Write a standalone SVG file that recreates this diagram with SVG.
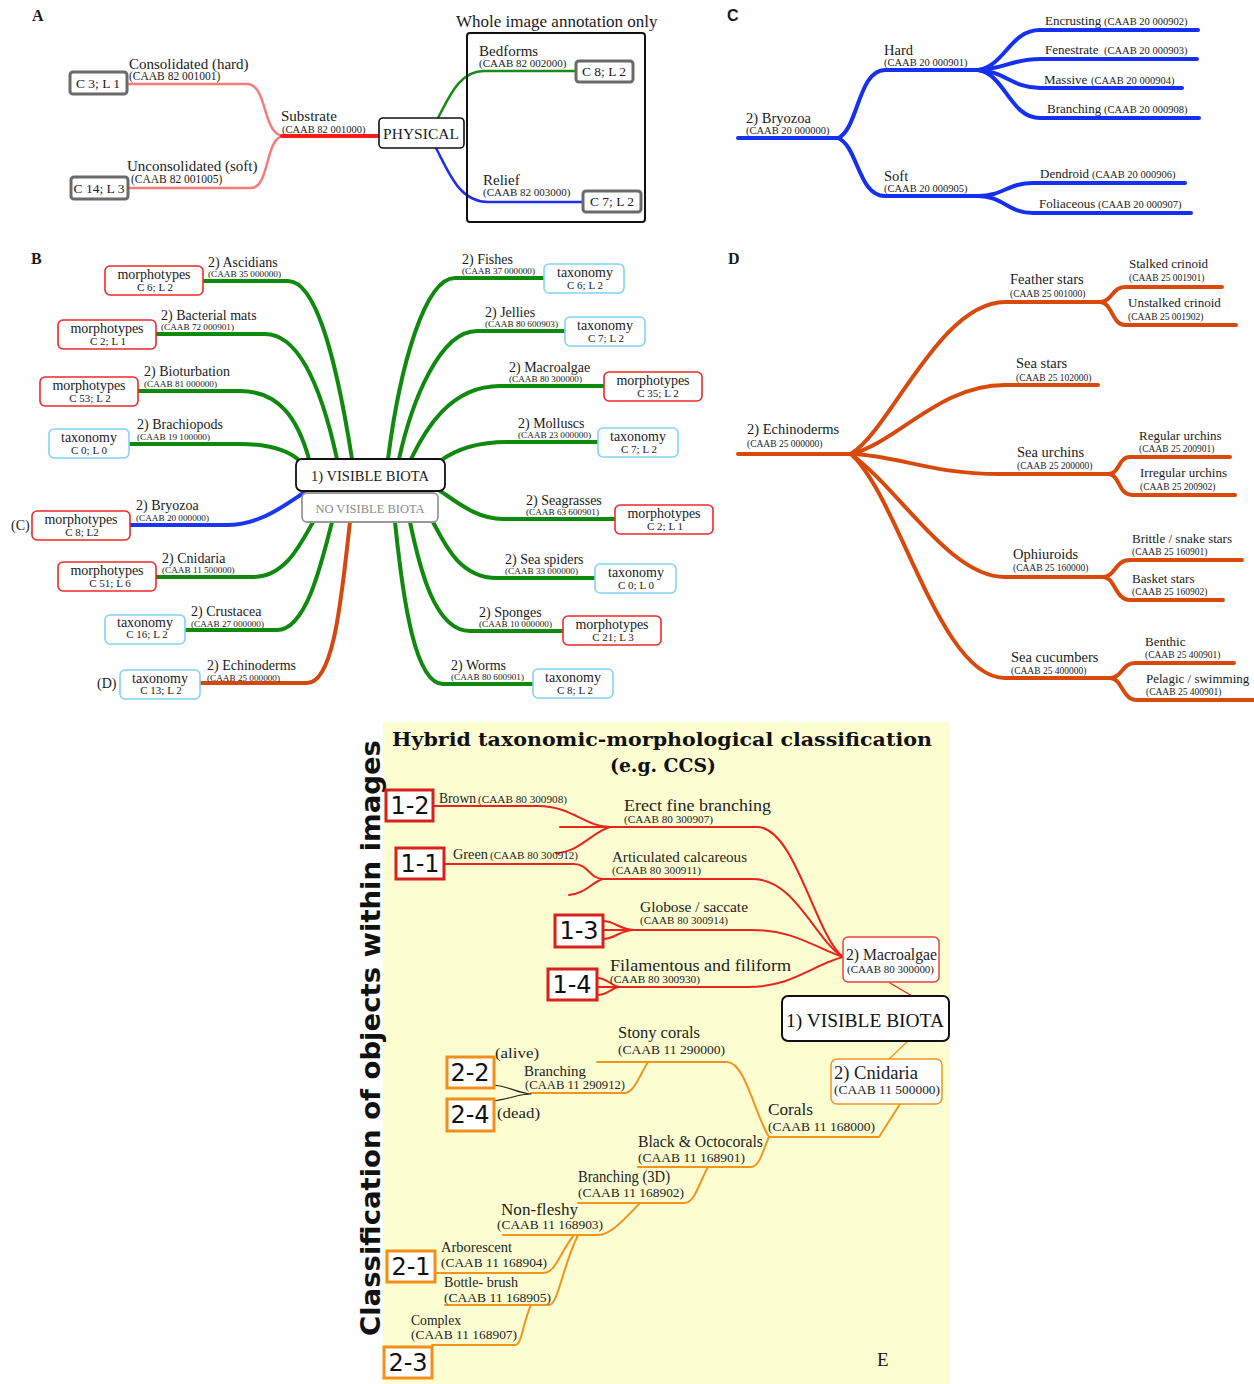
<svg xmlns="http://www.w3.org/2000/svg" width="1254" height="1384" viewBox="0 0 1254 1384">
<style>
text{font-family:"Liberation Serif","Times New Roman",serif;fill:#1a1a1a}
.mid{text-anchor:middle}
.pl{font-size:15px}
.pc{font-size:11.5px}
.gt{font-size:13.5px;text-anchor:middle}
.bl{font-size:14px}
.bc{font-size:9.2px}
.b1{font-size:14px;text-anchor:middle}
.b2{font-size:11px;text-anchor:middle}
.cl{font-size:14.5px}
.cc{font-size:10.5px}
.cs{font-size:13px}
.ds{font-size:13px}
.dc{font-size:9.5px}
.panel{font-weight:bold;font-size:16px}
.gbox{fill:#fff;stroke:#6a6a6a;stroke-width:3}
.rbox{fill:#fff;stroke:#ee2a2a;stroke-width:1.6}
.cbox{fill:#fff;stroke:#84d2f4;stroke-width:1.6}
.ln{fill:none;stroke-linecap:round;stroke-linejoin:round}
.gB{stroke:#0f8a0f;stroke-width:4}
.bB{stroke:#1b36f0;stroke-width:4}
.oB{stroke:#d4480e;stroke-width:4}
.bC{stroke:#1530f0;stroke-width:4}
.oD{stroke:#d84a0c;stroke-width:4}
.er{stroke:#e8241c;stroke-width:2}
.eo{stroke:#f0961e;stroke-width:2}
.num{font-family:"DejaVu Sans","Liberation Sans",sans-serif;font-size:24px;text-anchor:middle;fill:#111}
.ebr{fill:#fff;stroke:#d8211b;stroke-width:3}
.ebo{fill:#fff;stroke:#f0901a;stroke-width:3}
.el{font-size:15px;fill:#222}
.ec{font-size:10.5px;fill:#222}
.eoc{font-size:13px;fill:#222}
</style>

<!-- Panel E background -->
<rect x="383" y="722" width="567" height="662" fill="#fdfdd2"/>

<!-- panel letters -->
<text x="32" y="21" class="panel">A</text>
<text x="31" y="264" class="panel">B</text>
<text x="727" y="21" class="panel" style="font-family:'Liberation Sans',Arial,sans-serif">C</text>
<text x="728" y="264" class="panel">D</text>
<text x="877" y="1366" style="font-size:19px">E</text>

<g id="connectors">
  <!-- Panel A -->
  <path class="ln" stroke="#f77b7b" stroke-width="2.5" d="M127,84 L247,84 C268,84 262,136 284,136"/>
  <path class="ln" stroke="#f77b7b" stroke-width="2.5" d="M128,188 L251,188 C270,188 265,136 284,136"/>
  <path class="ln" stroke="#ff1a1a" stroke-width="4" d="M282,136 L379,136"/>
  <path class="ln" stroke="#1a8a1a" stroke-width="2.5" d="M438,118 C450,95 460,71 484,71 L577,71"/>
  <path class="ln" stroke="#1f2ff0" stroke-width="2.5" d="M436,148 C450,175 460,202 488,202 L584,202"/>

  <!-- Panel B left -->
  <path class="ln gB" d="M203,281 L288,281 C318,281 338,370 352,459"/>
  <path class="ln gB" d="M156,334 L265,334 C300,334 322,390 337,459"/>
  <path class="ln gB" d="M138,391 L240,391 C280,391 298,420 309,459"/>
  <path class="ln gB" d="M129,444 L240,444 C270,444 288,450 300,461"/>
  <path class="ln bB" d="M130,525 L227,525 C260,525 285,505 305,492"/>
  <path class="ln gB" d="M156,577 L253,577 C285,577 300,545 313,522"/>
  <path class="ln gB" d="M185,630 L277,630 C305,630 320,570 332,522"/>
  <path class="ln oB" d="M200,683 L307,683 C335,683 342,590 350,522"/>
  <!-- Panel B right -->
  <path class="ln gB" d="M544,278 L455,278 C425,278 400,365 388,459"/>
  <path class="ln gB" d="M565,331 L477,331 C440,331 412,400 399,459"/>
  <path class="ln gB" d="M604,386 L500,386 C450,386 425,430 411,459"/>
  <path class="ln gB" d="M598,442 L507,442 C475,442 455,450 440,461"/>
  <path class="ln gB" d="M615,519 L503,519 C475,519 455,500 440,491"/>
  <path class="ln gB" d="M595,578 L497,578 C460,578 445,545 433,522"/>
  <path class="ln gB" d="M563,631 L470,631 C435,631 420,570 410,522"/>
  <path class="ln gB" d="M533,684 L443,684 C415,684 403,600 395,522"/>

  <!-- Panel C -->
  <path class="ln bC" d="M738,138 L838,138"/>
  <path class="ln bC" d="M838,138 C858,130 858,70 885,70 L980,70"/>
  <path class="ln bC" d="M838,138 C858,146 858,196 885,196 L980,196"/>
  <path class="ln bC" d="M978,70 C1005,66 1010,30 1040,30 L1198,30"/>
  <path class="ln bC" d="M978,70 C1005,69 1012,59 1040,59 L1197,59"/>
  <path class="ln bC" d="M978,70 C1005,71 1012,88 1040,88 L1182,88"/>
  <path class="ln bC" d="M978,70 C1005,74 1010,118 1040,118 L1199,118"/>
  <path class="ln bC" d="M978,196 C1003,196 1008,183 1033,183 L1185,183"/>
  <path class="ln bC" d="M978,196 C1003,196 1008,213 1033,213 L1191,213"/>

  <!-- Panel D -->
  <path class="ln oD" d="M738,454 L852,454"/>
  <path class="ln oD" d="M852,453 C890,430 940,302 1005,302 L1100,302"/>
  <path class="ln oD" d="M852,454 C900,440 940,385 1005,385 L1098,385"/>
  <path class="ln oD" d="M852,454 C900,456 930,474 1000,474 L1110,474"/>
  <path class="ln oD" d="M852,455 C900,490 950,577 1005,577 L1103,577"/>
  <path class="ln oD" d="M852,455 C900,500 940,678 1005,678 L1110,678"/>
  <path class="ln oD" d="M1100,302 C1112,302 1112,287 1125,287 L1222,287"/>
  <path class="ln oD" d="M1100,302 C1112,302 1112,325 1125,325 L1236,325"/>
  <path class="ln oD" d="M1108,474 C1120,474 1118,457 1130,457 L1230,457"/>
  <path class="ln oD" d="M1108,474 C1120,474 1118,495 1132,495 L1235,495"/>
  <path class="ln oD" d="M1103,577 C1115,577 1115,560 1130,560 L1242,560"/>
  <path class="ln oD" d="M1103,577 C1115,577 1115,600 1130,600 L1223,600"/>
  <path class="ln oD" d="M1110,678 C1122,678 1122,663 1135,663 L1234,663"/>
  <path class="ln oD" d="M1110,678 C1122,678 1122,700 1137,700 L1254,700"/>

  <!-- Panel E red -->
  <path class="ln er" d="M433,806 L538,806 C572,806 585,827 610,827"/>
  <path class="ln er" d="M560,827 L610,827"/>
  <path class="ln er" d="M556,853 C580,852 592,832 610,827"/>
  <path class="ln er" d="M610,827 L757,827 C795,827 815,935 843,957"/>
  <path class="ln er" d="M444,864 L574,864 C588,864 590,879 603,879"/>
  <path class="ln er" d="M569,895 C585,894 592,882 603,879"/>
  <path class="ln er" d="M603,879 L753,879 C795,879 815,940 843,957"/>
  <path class="ln er" d="M603,921 C615,921 620,930 634,930 M603,930 L634,930 M603,939 C615,939 620,930 634,930"/>
  <path class="ln er" d="M634,930 L752,930 C795,930 815,948 843,957"/>
  <path class="ln er" d="M597,978 C608,978 612,987 620,987 M597,987 L620,987 M597,995 C608,995 612,987 620,987"/>
  <path class="ln er" d="M620,987 L748,987 C792,987 812,965 843,957"/>
  <path class="ln" stroke="#e8241c" stroke-width="1.3" d="M890,983 L912,996"/>

  <!-- Panel E orange -->
  <path class="ln" stroke="#f0961e" stroke-width="1.3" d="M908,1041 L889,1059"/>
  <path class="ln eo" d="M900,1104 L879,1137 L769,1137"/>
  <path class="ln eo" d="M769,1137 C755,1115 745,1062 727,1062 L597,1062"/>
  <path class="ln eo" d="M648,1062 C638,1078 634,1093 624,1093 L531,1093"/>
  <path class="ln" stroke="#222" stroke-width="1.2" d="M494,1085 C510,1087 518,1093 531,1094 M494,1101 C510,1099 518,1094 531,1094"/>
  <path class="ln eo" d="M769,1137 C762,1152 760,1167 750,1167 L638,1167"/>
  <path class="ln eo" d="M708,1167 C698,1185 695,1203 684,1203 L578,1203"/>
  <path class="ln eo" d="M640,1203 C622,1222 610,1235 598,1235 L503,1235"/>
  <path class="ln eo" d="M574,1235 C560,1252 556,1273 543,1273 L435,1273"/>
  <path class="ln eo" d="M578,1235 C562,1268 558,1305 549,1305 L445,1305"/>
  <path class="ln eo" d="M531,1305 C522,1325 522,1345 515,1345 L432,1345"/>
</g>

<!-- ================= Panel A nodes ================= -->
<g id="a-whole-image">
  <rect x="467" y="33" width="178" height="189" rx="3" fill="none" stroke="#111" stroke-width="2"/>
  <text x="456" y="27" style="font-size:17px">Whole image annotation only</text>
</g>
<g id="a-physical">
  <rect x="379" y="118" width="85" height="30" rx="4" fill="#fff" stroke="#111" stroke-width="1.6"/>
  <text x="421" y="139" class="mid" style="font-size:15.5px">PHYSICAL</text>
</g>
<g id="a-substrate">
  <text x="281" y="121" class="pl">Substrate</text>
  <text x="282" y="133" class="pc" style="font-size:10.5px">(CAAB 82 001000)</text>
</g>
<g id="a-consolidated">
  <text x="129" y="69" class="pl">Consolidated (hard)</text>
  <text x="129" y="80" class="pc">(CAAB 82 001001)</text>
  <rect x="70" y="72" width="57" height="22" rx="3" class="gbox"/>
  <text x="98" y="88" class="gt">C 3; L 1</text>
</g>
<g id="a-unconsolidated">
  <text x="127" y="171" class="pl">Unconsolidated (soft)</text>
  <text x="131" y="183" class="pc">(CAAB 82 001005)</text>
  <rect x="71" y="177" width="57" height="22" rx="3" class="gbox"/>
  <text x="99" y="193" class="gt">C 14; L 3</text>
</g>
<g id="a-bedforms">
  <text x="479" y="56" class="pl">Bedforms</text>
  <text x="479" y="67" class="pc" style="font-size:11px">(CAAB 82 002000)</text>
  <rect x="576" y="61" width="57" height="21" rx="3" class="gbox"/>
  <text x="604" y="76" class="gt">C 8; L 2</text>
</g>
<g id="a-relief">
  <text x="483" y="185" class="pl">Relief</text>
  <text x="483" y="196" class="pc" style="font-size:11px">(CAAB 82 003000)</text>
  <rect x="583" y="191" width="58" height="21" rx="3" class="gbox"/>
  <text x="612" y="206" class="gt">C 7; L 2</text>
</g>

<!-- ================= Panel C nodes ================= -->
<g id="c-bryozoa">
  <text x="746" y="123" class="cl">2) Bryozoa</text>
  <text x="746" y="134" class="cc">(CAAB 20 000000)</text>
</g>
<g id="c-hard">
  <text x="884" y="55" class="cl">Hard</text>
  <text x="884" y="66" class="cc">(CAAB 20 000901)</text>
</g>
<g id="c-soft">
  <text x="884" y="181" class="cl">Soft</text>
  <text x="884" y="192" class="cc">(CAAB 20 000905)</text>
</g>
<g id="c-encrusting"><text x="1045" y="25" class="cs">Encrusting</text><text x="1104" y="25" class="cc">(CAAB 20 000902)</text></g>
<g id="c-fenestrate"><text x="1045" y="54" class="cs">Fenestrate</text><text x="1104" y="54" class="cc">(CAAB 20 000903)</text></g>
<g id="c-massive"><text x="1044" y="84" class="cs">Massive</text><text x="1091" y="84" class="cc">(CAAB 20 000904)</text></g>
<g id="c-branching"><text x="1047" y="113" class="cs">Branching</text><text x="1104" y="113" class="cc">(CAAB 20 000908)</text></g>
<g id="c-dendroid"><text x="1040" y="178" class="cs">Dendroid</text><text x="1092" y="178" class="cc">(CAAB 20 000906)</text></g>
<g id="c-foliaceous"><text x="1039" y="208" class="cs">Foliaceous</text><text x="1098" y="208" class="cc">(CAAB 20 000907)</text></g>

<!-- ================= Panel B nodes ================= -->
<g id="b-visible-biota">
  <rect x="296" y="459" width="149" height="32" rx="6" fill="#fff" stroke="#111" stroke-width="1.8"/>
  <text x="370" y="481" class="mid" style="font-size:14.5px">1) VISIBLE BIOTA</text>
</g>
<g id="b-no-visible-biota">
  <rect x="302" y="493" width="136" height="29" rx="5" fill="#fff" stroke="#999" stroke-width="1.8"/>
  <text x="370" y="513" class="mid" style="font-size:12.5px;fill:#8a8a8a">NO VISIBLE BIOTA</text>
</g>

<g id="b-ascidians">
  <text x="208" y="267" class="bl">2) Ascidians</text><text x="208" y="277" class="bc">(CAAB 35 000000)</text>
  <rect x="105" y="266" width="98" height="29" rx="5" class="rbox"/>
  <text x="154" y="279" class="b1">morphotypes</text><text x="155" y="291" class="b2">C 6; L 2</text>
</g>
<g id="b-bacterial-mats">
  <text x="161" y="320" class="bl">2) Bacterial mats</text><text x="161" y="330" class="bc">(CAAB 72 000901)</text>
  <rect x="58" y="320" width="98" height="29" rx="5" class="rbox"/>
  <text x="107" y="333" class="b1">morphotypes</text><text x="108" y="345" class="b2">C 2; L 1</text>
</g>
<g id="b-bioturbation">
  <text x="144" y="376" class="bl">2) Bioturbation</text><text x="144" y="387" class="bc">(CAAB 81 000000)</text>
  <rect x="40" y="377" width="98" height="29" rx="5" class="rbox"/>
  <text x="89" y="390" class="b1">morphotypes</text><text x="90" y="402" class="b2">C 53; L 2</text>
</g>
<g id="b-brachiopods">
  <text x="137" y="429" class="bl">2) Brachiopods</text><text x="137" y="440" class="bc">(CAAB 19 100000)</text>
  <rect x="49" y="429" width="80" height="29" rx="5" class="cbox"/>
  <text x="89" y="442" class="b1">taxonomy</text><text x="89" y="454" class="b2">C 0; L 0</text>
</g>
<g id="b-bryozoa">
  <text x="11" y="530" class="bl">(C)</text>
  <text x="136" y="510" class="bl">2) Bryozoa</text><text x="136" y="521" class="bc">(CAAB 20 000000)</text>
  <rect x="32" y="511" width="98" height="29" rx="5" class="rbox"/>
  <text x="81" y="524" class="b1">morphotypes</text><text x="82" y="536" class="b2">C 8; L2</text>
</g>
<g id="b-cnidaria">
  <text x="162" y="563" class="bl">2) Cnidaria</text><text x="162" y="573" class="bc">(CAAB 11 500000)</text>
  <rect x="58" y="562" width="98" height="29" rx="5" class="rbox"/>
  <text x="107" y="575" class="b1">morphotypes</text><text x="110" y="587" class="b2">C 51; L  6</text>
</g>
<g id="b-crustacea">
  <text x="191" y="616" class="bl">2) Crustacea</text><text x="191" y="627" class="bc">(CAAB 27 000000)</text>
  <rect x="105" y="615" width="80" height="29" rx="5" class="cbox"/>
  <text x="145" y="627" class="b1">taxonomy</text><text x="147" y="638" class="b2">C 16; L 2</text>
</g>
<g id="b-echinoderms">
  <text x="97" y="688" class="bl">(D)</text>
  <text x="207" y="670" class="bl">2) Echinoderms</text><text x="207" y="681" class="bc">(CAAB 25 000000)</text>
  <rect x="120" y="670" width="80" height="29" rx="5" class="cbox"/>
  <text x="160" y="683" class="b1">taxonomy</text><text x="161" y="694" class="b2">C 13; L 2</text>
</g>

<g id="b-fishes">
  <text x="462" y="264" class="bl">2) Fishes</text><text x="462" y="274" class="bc">(CAAB 37 000000)</text>
  <rect x="544" y="264" width="80" height="29" rx="5" class="cbox"/>
  <text x="585" y="277" class="b1">taxonomy</text><text x="585" y="289" class="b2">C 6; L 2</text>
</g>
<g id="b-jellies">
  <text x="485" y="317" class="bl">2) Jellies</text><text x="485" y="327" class="bc">(CAAB 80 600903)</text>
  <rect x="565" y="317" width="80" height="29" rx="5" class="cbox"/>
  <text x="605" y="330" class="b1">taxonomy</text><text x="606" y="342" class="b2">C 7; L 2</text>
</g>
<g id="b-macroalgae">
  <text x="509" y="372" class="bl">2) Macroalgae</text><text x="509" y="382" class="bc">(CAAB 80 300000)</text>
  <rect x="604" y="372" width="98" height="29" rx="5" class="rbox"/>
  <text x="653" y="385" class="b1">morphotypes</text><text x="658" y="397" class="b2">C 35; L 2</text>
</g>
<g id="b-molluscs">
  <text x="518" y="428" class="bl">2) Molluscs</text><text x="518" y="438" class="bc">(CAAB 23 000000)</text>
  <rect x="598" y="428" width="80" height="29" rx="5" class="cbox"/>
  <text x="638" y="441" class="b1">taxonomy</text><text x="639" y="453" class="b2">C 7; L 2</text>
</g>
<g id="b-seagrasses">
  <text x="526" y="505" class="bl">2) Seagrasses</text><text x="526" y="515" class="bc">(CAAB 63 600901)</text>
  <rect x="615" y="505" width="98" height="29" rx="5" class="rbox"/>
  <text x="664" y="518" class="b1">morphotypes</text><text x="665" y="530" class="b2">C 2; L 1</text>
</g>
<g id="b-sea-spiders">
  <text x="505" y="564" class="bl">2) Sea spiders</text><text x="505" y="574" class="bc">(CAAB 33 000000)</text>
  <rect x="595" y="564" width="81" height="29" rx="5" class="cbox"/>
  <text x="636" y="577" class="b1">taxonomy</text><text x="636" y="589" class="b2">C 0; L 0</text>
</g>
<g id="b-sponges">
  <text x="479" y="617" class="bl">2) Sponges</text><text x="479" y="627" class="bc">(CAAB 10 000000)</text>
  <rect x="563" y="616" width="98" height="29" rx="5" class="rbox"/>
  <text x="612" y="629" class="b1">morphotypes</text><text x="613" y="641" class="b2">C 21; L 3</text>
</g>
<g id="b-worms">
  <text x="451" y="670" class="bl">2) Worms</text><text x="451" y="680" class="bc">(CAAB 80 600901)</text>
  <rect x="533" y="669" width="80" height="29" rx="5" class="cbox"/>
  <text x="573" y="682" class="b1">taxonomy</text><text x="575" y="694" class="b2">C 8; L 2</text>
</g>

<!-- ================= Panel D nodes ================= -->
<g id="d-echinoderms"><text x="747" y="434" class="cl">2) Echinoderms</text><text x="747" y="447" class="dc">(CAAB 25 000000)</text></g>
<g id="d-feather-stars"><text x="1010" y="284" class="cl">Feather stars</text><text x="1010" y="297" class="dc">(CAAB 25 001000)</text></g>
<g id="d-sea-stars"><text x="1016" y="368" class="cl">Sea stars</text><text x="1016" y="381" class="dc">(CAAB 25 102000)</text></g>
<g id="d-sea-urchins"><text x="1017" y="457" class="cl">Sea urchins</text><text x="1017" y="469" class="dc">(CAAB 25 200000)</text></g>
<g id="d-ophiuroids"><text x="1013" y="559" class="cl">Ophiuroids</text><text x="1013" y="571" class="dc">(CAAB 25 160000)</text></g>
<g id="d-sea-cucumbers"><text x="1011" y="662" class="cl">Sea cucumbers</text><text x="1011" y="674" class="dc">(CAAB 25 400000)</text></g>
<g id="d-stalked"><text x="1129" y="268" class="ds">Stalked crinoid</text><text x="1129" y="281" class="dc">(CAAB 25 001901)</text></g>
<g id="d-unstalked"><text x="1128" y="307" class="ds">Unstalked crinoid</text><text x="1128" y="320" class="dc">(CAAB 25 001902)</text></g>
<g id="d-regular"><text x="1139" y="440" class="ds">Regular urchins</text><text x="1139" y="452" class="dc">(CAAB 25 200901)</text></g>
<g id="d-irregular"><text x="1140" y="477" class="ds">Irregular urchins</text><text x="1140" y="490" class="dc">(CAAB 25 200902)</text></g>
<g id="d-brittle"><text x="1132" y="543" class="ds">Brittle / snake stars</text><text x="1132" y="555" class="dc">(CAAB 25 160901)</text></g>
<g id="d-basket"><text x="1132" y="583" class="ds">Basket stars</text><text x="1132" y="595" class="dc">(CAAB 25 160902)</text></g>
<g id="d-benthic"><text x="1145" y="646" class="ds">Benthic</text><text x="1145" y="658" class="dc">(CAAB 25 400901)</text></g>
<g id="d-pelagic"><text x="1146" y="683" class="ds">Pelagic / swimming</text><text x="1146" y="695" class="dc">(CAAB 25 400901)</text></g>

<!-- ================= Panel E ================= -->
<g id="e-axis-title">
  <text transform="translate(380,1336) rotate(-90)" textLength="596" lengthAdjust="spacingAndGlyphs" style="font-family:'DejaVu Sans','Liberation Sans',sans-serif;font-weight:bold;font-size:27px;fill:#111">Classification of objects within images</text>
</g>
<g id="e-title">
  <text x="662" y="746" class="mid" textLength="540" lengthAdjust="spacingAndGlyphs" style="font-family:'DejaVu Serif','Liberation Serif',serif;font-weight:bold;font-size:18px;fill:#111">Hybrid taxonomic-morphological classification</text>
  <text x="663" y="772" class="mid" textLength="106" lengthAdjust="spacingAndGlyphs" style="font-family:'DejaVu Serif','Liberation Serif',serif;font-weight:bold;font-size:18px;fill:#111">(e.g. CCS)</text>
</g>

<g id="e-1-2">
  <rect x="386" y="790" width="47" height="31" class="ebr"/>
  <text x="410" y="814" class="num">1-2</text>
  <text x="439" y="803" class="el" style="font-size:14px" textLength="37" lengthAdjust="spacingAndGlyphs">Brown</text>
  <text x="478" y="803" class="ec" textLength="89" lengthAdjust="spacingAndGlyphs">(CAAB 80 300908)</text>
</g>
<g id="e-1-1">
  <rect x="396" y="848" width="48" height="31" class="ebr"/>
  <text x="420" y="872" class="num">1-1</text>
  <text x="453" y="859" class="el" style="font-size:14px" textLength="35" lengthAdjust="spacingAndGlyphs">Green</text>
  <text x="490" y="859" class="ec" textLength="88" lengthAdjust="spacingAndGlyphs">(CAAB 80 300912)</text>
</g>
<g id="e-erect">
  <text x="624" y="811" class="el" style="font-size:16px" textLength="147" lengthAdjust="spacingAndGlyphs">Erect fine branching</text>
  <text x="624" y="823" class="ec" textLength="89" lengthAdjust="spacingAndGlyphs">(CAAB 80 300907)</text>
</g>
<g id="e-articulated">
  <text x="612" y="862" class="el" style="font-size:15.5px" textLength="135" lengthAdjust="spacingAndGlyphs">Articulated calcareous</text>
  <text x="612" y="874" class="ec" textLength="89" lengthAdjust="spacingAndGlyphs">(CAAB 80 300911)</text>
</g>
<g id="e-1-3">
  <rect x="555" y="915" width="48" height="32" class="ebr"/>
  <text x="579" y="939" class="num">1-3</text>
  <text x="640" y="912" class="el" style="font-size:15.5px" textLength="108" lengthAdjust="spacingAndGlyphs">Globose / saccate</text>
  <text x="640" y="924" class="ec" textLength="88" lengthAdjust="spacingAndGlyphs">(CAAB 80 300914)</text>
</g>
<g id="e-1-4">
  <rect x="548" y="969" width="49" height="31" class="ebr"/>
  <text x="572" y="993" class="num">1-4</text>
  <text x="610" y="971" class="el" style="font-size:16px" textLength="181" lengthAdjust="spacingAndGlyphs">Filamentous and filiform</text>
  <text x="610" y="983" class="ec" textLength="90" lengthAdjust="spacingAndGlyphs">(CAAB 80 300930)</text>
</g>
<g id="e-macroalgae">
  <rect x="843" y="937" width="96" height="45" rx="5" fill="#fff" stroke="#e8443c" stroke-width="1.5"/>
  <text x="846" y="960" class="el" style="font-size:16px" textLength="91" lengthAdjust="spacingAndGlyphs">2) Macroalgae</text>
  <text x="847" y="973" class="ec" textLength="87" lengthAdjust="spacingAndGlyphs">(CAAB 80 300000)</text>
</g>
<g id="e-visible-biota">
  <rect x="782" y="996" width="167" height="45" rx="6" fill="#fff" stroke="#111" stroke-width="2"/>
  <text x="786" y="1027" style="font-size:19.5px;fill:#111" textLength="158" lengthAdjust="spacingAndGlyphs">1) VISIBLE BIOTA</text>
</g>
<g id="e-cnidaria">
  <rect x="831" y="1059" width="111" height="45" rx="6" fill="#fff" stroke="#f0961e" stroke-width="1.5"/>
  <text x="834" y="1079" style="font-size:18px;fill:#222" textLength="84" lengthAdjust="spacingAndGlyphs">2) Cnidaria</text>
  <text x="834" y="1094" class="eoc" textLength="106" lengthAdjust="spacingAndGlyphs">(CAAB 11 500000)</text>
</g>
<g id="e-corals">
  <text x="768" y="1115" class="el" style="font-size:16px" textLength="45" lengthAdjust="spacingAndGlyphs">Corals</text>
  <text x="768" y="1131" class="eoc" textLength="107" lengthAdjust="spacingAndGlyphs">(CAAB 11 168000)</text>
</g>
<g id="e-stony">
  <text x="618" y="1038" class="el" style="font-size:16px" textLength="82" lengthAdjust="spacingAndGlyphs">Stony corals</text>
  <text x="618" y="1054" class="eoc" textLength="107" lengthAdjust="spacingAndGlyphs">(CAAB 11 290000)</text>
</g>
<g id="e-branching">
  <text x="524" y="1076" class="el" style="font-size:14.5px" textLength="62" lengthAdjust="spacingAndGlyphs">Branching</text>
  <text x="525" y="1089" class="eoc" style="font-size:12px" textLength="100" lengthAdjust="spacingAndGlyphs">(CAAB 11 290912)</text>
</g>
<g id="e-2-2">
  <rect x="447" y="1057" width="47" height="31" class="ebo"/>
  <text x="470" y="1081" class="num">2-2</text>
  <text x="495" y="1058" class="el" textLength="44" lengthAdjust="spacingAndGlyphs">(alive)</text>
</g>
<g id="e-2-4">
  <rect x="447" y="1099" width="47" height="32" class="ebo"/>
  <text x="470" y="1123" class="num">2-4</text>
  <text x="497" y="1118" class="el" textLength="43" lengthAdjust="spacingAndGlyphs">(dead)</text>
</g>
<g id="e-black-octo">
  <text x="638" y="1147" class="el" style="font-size:16px" textLength="125" lengthAdjust="spacingAndGlyphs">Black &amp; Octocorals</text>
  <text x="638" y="1162" class="eoc" textLength="107" lengthAdjust="spacingAndGlyphs">(CAAB 11 168901)</text>
</g>
<g id="e-branching-3d">
  <text x="578" y="1182" class="el" style="font-size:16px" textLength="92" lengthAdjust="spacingAndGlyphs">Branching (3D)</text>
  <text x="578" y="1197" class="eoc" textLength="106" lengthAdjust="spacingAndGlyphs">(CAAB 11 168902)</text>
</g>
<g id="e-non-fleshy">
  <text x="501" y="1215" class="el" style="font-size:16px" textLength="77" lengthAdjust="spacingAndGlyphs">Non-fleshy</text>
  <text x="497" y="1229" class="eoc" textLength="106" lengthAdjust="spacingAndGlyphs">(CAAB 11 168903)</text>
</g>
<g id="e-2-1">
  <rect x="387" y="1251" width="48" height="31" class="ebo"/>
  <text x="411" y="1275" class="num">2-1</text>
  <text x="441" y="1252" class="el" textLength="71" lengthAdjust="spacingAndGlyphs">Arborescent</text>
  <text x="441" y="1267" class="eoc" textLength="106" lengthAdjust="spacingAndGlyphs">(CAAB 11 168904)</text>
</g>
<g id="e-bottle-brush">
  <text x="444" y="1287" class="el" textLength="74" lengthAdjust="spacingAndGlyphs">Bottle- brush</text>
  <text x="444" y="1302" class="eoc" textLength="107" lengthAdjust="spacingAndGlyphs">(CAAB 11 168905)</text>
</g>
<g id="e-2-3">
  <rect x="384" y="1347" width="48" height="31" class="ebo"/>
  <text x="408" y="1371" class="num">2-3</text>
  <text x="411" y="1325" class="el" textLength="50" lengthAdjust="spacingAndGlyphs">Complex</text>
  <text x="411" y="1339" class="eoc" textLength="106" lengthAdjust="spacingAndGlyphs">(CAAB 11 168907)</text>
</g>
</svg>
